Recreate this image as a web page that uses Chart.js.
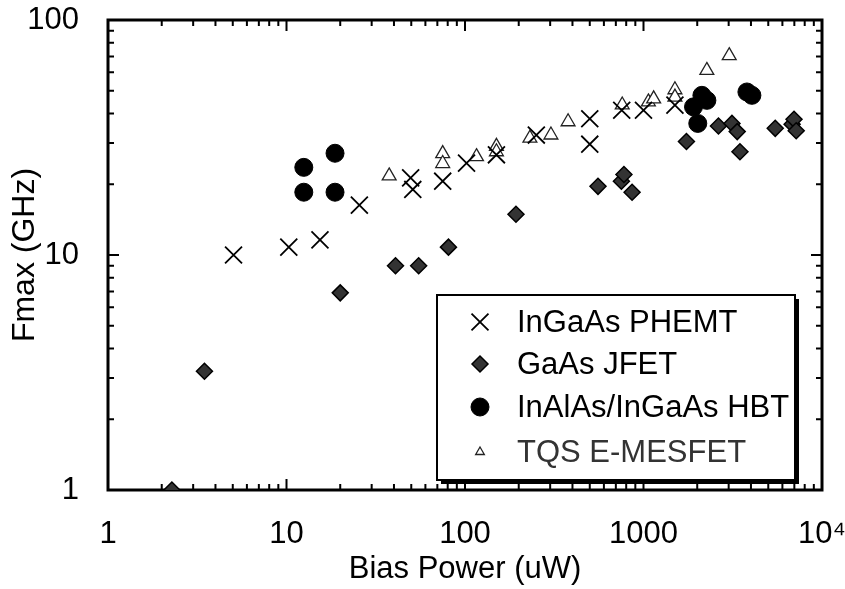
<!DOCTYPE html>
<html>
<head>
<meta charset="utf-8">
<script src="https://cdn.jsdelivr.net/npm/chart.js@4.4.1/dist/chart.umd.min.js"></script>
<style>
  html, body { margin: 0; padding: 0; background: #fff; }
</style>
</head>
<body>
<canvas id="fmaxChart" width="845" height="589"></canvas>
<script>
// Values (Bias Power in uW, Fmax in GHz)
const phemtPower = [5.05, 10.3, 15.4, 25.6, 49.6, 51, 75, 102, 150, 251, 500, 500, 755, 1000, 1500];
const phemtFmax  = [10, 10.8, 11.6, 16.3, 21.3, 19, 20.6, 24.6, 26.7, 32.4, 38, 29.6, 41.3, 41.3, 43.4];

const jfetPower = [2.28, 3.47, 20, 40.8, 55, 80.8, 193, 556, 752, 777, 863, 1740, 2630, 3130, 3350, 3470, 5470, 6800, 6970, 7170];
const jfetFmax  = [1.0, 3.2, 6.9, 9.0, 9.0, 10.8, 14.9, 19.6, 20.6, 22, 18.5, 30.4, 35.4, 36.3, 33.5, 27.5, 34.6, 36, 37.8, 33.8];

const hbtPower = [12.5, 12.5, 18.7, 18.7, 1906, 2014, 2124, 2265, 3796, 4048];
const hbtFmax  = [23.6, 18.5, 27.1, 18.5, 42.7, 36.3, 47.8, 45.5, 49.4, 47.8];

const tqsPower = [37.6, 75, 75, 116, 150, 150, 231, 303, 378, 760, 1065, 1140, 1500, 1500, 2264, 3022];
const tqsFmax  = [21.7, 27, 24.5, 26.2, 29, 27.5, 31.4, 32.4, 36.9, 43.5, 44.8, 46.2, 50.5, 47, 61, 70.5];

const seriesLabels = ["InGaAs PHEMT", "GaAs JFET", "InAlAs/InGaAs HBT", "TQS E-MESFET"];

const xTickValues = [1, 10, 100, 1000, 10000];
const xTickLabels = ["1", "10", "100", "1000", "10\u2074"];
const yTickValues = [1, 10, 100];
const yTickLabels = ["1", "10", "100"];

const FONT = "'Liberation Sans', Arial, Helvetica, sans-serif";

function toPoints(xs, ys) {
  return xs.map((x, i) => ({ x: x, y: ys[i] }));
}

// frame with inward ticks on all four sides
const frameTicks = {
  id: "frameTicks",
  beforeDatasetsDraw(chart) {
    const { ctx, chartArea: a, scales } = chart;
    ctx.save();
    ctx.strokeStyle = "#000";
    ctx.lineWidth = 2;
    ctx.beginPath();
    for (let d = 1; d < 10000; d *= 10) {
      for (let m = 1; m <= 9; m++) {
        const px = scales.x.getPixelForValue(d * m);
        const len = m === 1 ? 11 : 6;
        ctx.moveTo(px, a.bottom); ctx.lineTo(px, a.bottom - len);
        ctx.moveTo(px, a.top); ctx.lineTo(px, a.top + len);
      }
    }
    for (let d = 1; d < 100; d *= 10) {
      for (let m = 1; m <= 9; m++) {
        const py = scales.y.getPixelForValue(d * m);
        const len = m === 1 ? 11 : 6;
        ctx.moveTo(a.left, py); ctx.lineTo(a.left + len, py);
        ctx.moveTo(a.right, py); ctx.lineTo(a.right - len, py);
      }
    }
    ctx.stroke();
    ctx.lineWidth = 3;
    ctx.strokeRect(a.left, a.top, a.right - a.left, a.bottom - a.top);
    ctx.restore();
  }
};

// boxed legend with drop shadow, lower right of the plot
const boxLegend = {
  id: "boxLegend",
  afterDraw(chart) {
    const ctx = chart.ctx;
    const left = 437, top = 295, w = 358, h = 185;
    const rowY = [322, 364, 407, 452];
    const markerR = [12, 8, 9, 5];
    ctx.save();
    ctx.fillStyle = "#000";
    ctx.fillRect(left + 4, top + 4, w, h);
    ctx.fillStyle = "#fff";
    ctx.fillRect(left, top, w, h);
    ctx.lineWidth = 2;
    ctx.strokeStyle = "#000";
    ctx.strokeRect(left, top, w, h);

    chart.data.datasets.forEach((ds, i) => {
      ctx.fillStyle = ds.backgroundColor;
      ctx.strokeStyle = ds.borderColor;
      ctx.lineWidth = ds.borderWidth;
      Chart.helpers.drawPoint(ctx, {
        pointStyle: ds.pointStyle,
        radius: markerR[i],
        borderWidth: ds.borderWidth,
        rotation: 0
      }, 480, rowY[i]);
      ctx.fillStyle = i === 3 ? "#333" : "#000";
      ctx.font = "31px " + FONT;
      ctx.textBaseline = "middle";
      ctx.textAlign = "left";
      ctx.fillText(ds.label, 517, rowY[i] + 1);
    });
    ctx.restore();
  }
};

const ctx = document.getElementById("fmaxChart").getContext("2d");
const chart = new Chart(ctx, {
  type: "scatter",
  data: {
    datasets: [
      {
        label: seriesLabels[0],
        data: toPoints(phemtPower, phemtFmax),
        pointStyle: "crossRot",
        pointRadius: 12,
        borderColor: "#000",
        backgroundColor: "#000",
        borderWidth: 1.8
      },
      {
        label: seriesLabels[1],
        data: toPoints(jfetPower, jfetFmax),
        pointStyle: "rectRot",
        pointRadius: 8,
        borderColor: "#000",
        backgroundColor: "#333",
        borderWidth: 1.5
      },
      {
        label: seriesLabels[2],
        data: toPoints(hbtPower, hbtFmax),
        pointStyle: "circle",
        pointRadius: 9,
        borderColor: "#000",
        backgroundColor: "#000",
        borderWidth: 1
      },
      {
        label: seriesLabels[3],
        data: toPoints(tqsPower, tqsFmax),
        pointStyle: "triangle",
        pointRadius: 8,
        borderColor: "#222",
        backgroundColor: "#fff",
        borderWidth: 1.3
      }
    ]
  },
  options: {
    responsive: false,
    animation: false,
    layout: { padding: { top: 20, right: 23, left: 0, bottom: 0 } },
    plugins: {
      legend: { display: false },
      tooltip: { enabled: false }
    },
    scales: {
      x: {
        type: "logarithmic",
        min: 1,
        max: 10000,
        grid: { display: false },
        border: { display: false },
        afterBuildTicks: (scale) => {
          scale.ticks = xTickValues.map(v => ({ value: v }));
        },
        afterFit: (scale) => {
          scale.height = 99;
          scale.paddingLeft = 0;
          scale.paddingRight = 0;
        },
        ticks: {
          color: "#000",
          padding: 18,
          maxRotation: 0,
          autoSkip: false,
          font: { family: FONT, size: 31 },
          callback: (v) => xTickLabels[xTickValues.indexOf(v)]
        },
        title: {
          display: true,
          text: "Bias Power (uW)",
          color: "#000",
          padding: { top: 0, bottom: 1 },
          font: { family: FONT, size: 31 }
        }
      },
      y: {
        type: "logarithmic",
        min: 1,
        max: 100,
        grid: { display: false },
        border: { display: false },
        afterBuildTicks: (scale) => {
          scale.ticks = yTickValues.map(v => ({ value: v }));
        },
        afterFit: (scale) => {
          scale.width = 108;
          scale.paddingTop = 0;
          scale.paddingBottom = 0;
        },
        ticks: {
          color: "#000",
          padding: 21,
          autoSkip: false,
          font: { family: FONT, size: 31 },
          callback: (v) => yTickLabels[yTickValues.indexOf(v)]
        },
        title: {
          display: true,
          text: "Fmax (GHz)",
          color: "#000",
          padding: { top: 6, bottom: 0 },
          font: { family: FONT, size: 32 }
        }
      }
    }
  },
  plugins: [frameTicks, boxLegend]
});
</script>
</body>
</html>
